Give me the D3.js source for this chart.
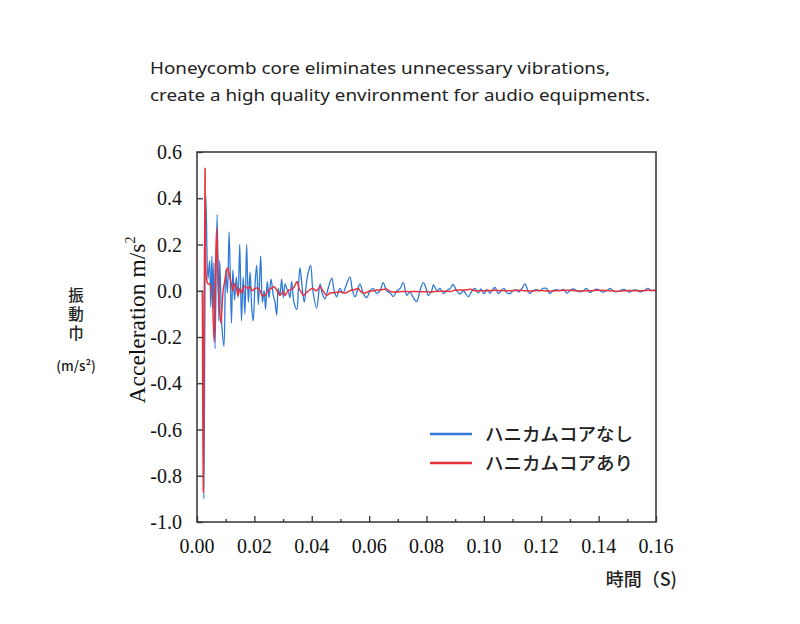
<!DOCTYPE html>
<html>
<head>
<meta charset="utf-8">
<script src="https://cdn.jsdelivr.net/npm/d3@7"></script>
<style>
  body { margin: 0; background: #fff; }
  svg { display: block; }
</style>
</head>
<body>
<div id="chart"></div>
<script>
// time (s) and acceleration (m/s^2)
const blueTime = [
  0.0019, 0.0024, 0.0031, 0.0038, 0.0044, 0.0048, 0.0052, 0.0056, 0.0059, 0.0063,
  0.0070, 0.0076, 0.0079, 0.0087, 0.0094, 0.0100, 0.0106, 0.0112, 0.0120, 0.0125,
  0.0131, 0.0137, 0.0143, 0.0149, 0.0155, 0.0161, 0.0167, 0.0173, 0.0179, 0.0185,
  0.0191, 0.0196, 0.0202, 0.0208, 0.0214, 0.0222, 0.0228, 0.0234, 0.0239, 0.0245,
  0.0251, 0.0258, 0.0266, 0.0272, 0.0278, 0.0283, 0.0289, 0.0295, 0.0301, 0.0307,
  0.0313, 0.0318, 0.0324, 0.0330, 0.0338, 0.0348, 0.0353, 0.0359, 0.0367, 0.0374,
  0.0382, 0.0388, 0.0396, 0.0404, 0.0417, 0.0429, 0.0436, 0.0446, 0.0457, 0.0470,
  0.0478, 0.0487, 0.0498, 0.0509, 0.0519, 0.0533, 0.0542, 0.0551, 0.0559, 0.0568,
  0.0579, 0.0592, 0.0603, 0.0614, 0.0626, 0.0638, 0.0649, 0.0661, 0.0673, 0.0684,
  0.0697, 0.0708, 0.0719, 0.0731, 0.0742, 0.0754, 0.0766, 0.0777, 0.0789, 0.0801,
  0.0806, 0.0818, 0.0824, 0.0837, 0.0847, 0.0859, 0.0870, 0.0882, 0.0893, 0.0905,
  0.0917, 0.0928, 0.0946, 0.0959, 0.0969, 0.0980, 0.0990, 0.1000, 0.1011, 0.1021,
  0.1028, 0.1039, 0.1050, 0.1060, 0.1070, 0.1081, 0.1091, 0.1102, 0.1112, 0.1122,
  0.1133, 0.1143, 0.1154, 0.1161, 0.1171, 0.1182, 0.1196, 0.1206, 0.1218, 0.1230,
  0.1241, 0.1251, 0.1265, 0.1277, 0.1289, 0.1300, 0.1311, 0.1324, 0.1335, 0.1346,
  0.1358, 0.1370, 0.1380, 0.1394, 0.1405, 0.1415, 0.1428, 0.1440, 0.1450, 0.1463,
  0.1474, 0.1488, 0.1499, 0.1509, 0.1521, 0.1534, 0.1544, 0.1558, 0.1572, 0.1583,
  0.1593, 0.1600
];
const blueValue = [
  0.00, -0.90, 0.41, 0.05, 0.13, -0.07, 0.15, -0.08, 0.12, -0.25,
  0.33, -0.13, 0.13, -0.16, -0.24, 0.09, -0.01, 0.255, -0.14, 0.09,
  -0.04, 0.06, -0.03, 0.20, -0.13, 0.06, -0.10, 0.20, -0.05, 0.08,
  -0.08, -0.13, 0.02, 0.11, -0.06, 0.15, -0.05, 0.00, -0.08, 0.04,
  -0.03, 0.05, -0.02, -0.05, -0.105, 0.01, -0.02, 0.05, -0.03, 0.03,
  0.01, 0.00, -0.03, 0.04, -0.05, -0.08, 0.00, 0.10, 0.01, -0.05,
  0.04, 0.08, 0.11, 0.00, -0.075, 0.03, -0.01, -0.035, 0.01, 0.055,
  0.00, -0.026, 0.01, -0.01, 0.02, 0.06, 0.00, -0.026, 0.00, 0.03,
  -0.01, -0.03, 0.00, 0.01, -0.01, 0.00, 0.035, 0.00, -0.01, -0.025,
  0.00, 0.01, 0.035, -0.02, -0.005, -0.03, -0.047, 0.00, 0.035, 0.00,
  -0.02, 0.00, 0.025, 0.00, 0.01, -0.012, 0.00, 0.01, 0.027, 0.00,
  -0.014, 0.00, -0.026, 0.00, 0.01, -0.01, 0.008, -0.012, 0.005, -0.01,
  0.00, 0.014, -0.012, 0.00, 0.01, -0.01, -0.012, 0.00, 0.005, -0.005,
  0.01, 0.03, 0.00, -0.012, 0.00, 0.005, 0.00, 0.01, 0.01, -0.012,
  0.00, 0.005, 0.00, 0.006, -0.01, 0.00, 0.008, 0.00, -0.005, 0.00,
  0.01, -0.008, 0.00, 0.007, 0.00, -0.006, 0.00, 0.01, 0.00, -0.005,
  0.00, 0.006, 0.00, -0.006, 0.003, 0.003, -0.005, 0.00, 0.01, 0.00,
  0.004, 0.00
];

const redTime = [
  0.0019, 0.0022, 0.0028, 0.0033, 0.0038, 0.0044, 0.0049, 0.0054, 0.0060, 0.0068,
  0.0075, 0.0083, 0.0091, 0.0098, 0.0106, 0.0114, 0.0120, 0.0125, 0.0131, 0.0138,
  0.0143, 0.0150, 0.0157, 0.0164, 0.0171, 0.0178, 0.0185, 0.0192, 0.0202, 0.0213,
  0.0220, 0.0227, 0.0237, 0.0247, 0.0258, 0.0268, 0.0279, 0.0289, 0.0300, 0.0307,
  0.0317, 0.0328, 0.0338, 0.0348, 0.0356, 0.0363, 0.0371, 0.0380, 0.0394, 0.0404,
  0.0417, 0.0429, 0.0439, 0.0452, 0.0464, 0.0481, 0.0498, 0.0516, 0.0533, 0.0551,
  0.0562, 0.0572, 0.0586, 0.0600, 0.0614, 0.0627, 0.0641, 0.0661, 0.0676, 0.0690,
  0.0708, 0.0725, 0.0742, 0.0760, 0.0777, 0.0795, 0.0812, 0.0830, 0.0847, 0.0864,
  0.0882, 0.0899, 0.0917, 0.0934, 0.0952, 0.0969, 0.0986, 0.1004, 0.1021, 0.1039,
  0.1056, 0.1091, 0.1126, 0.1161, 0.1196, 0.1230, 0.1265, 0.1300, 0.1335, 0.1370,
  0.1405, 0.1440, 0.1474, 0.1509, 0.1544, 0.1579, 0.1600
];
const redValue = [
  0.00, -0.87, 0.53, 0.05, 0.03, 0.03, 0.02, -0.04, -0.22, 0.27,
  0.00, -0.14, 0.00, 0.05, 0.10, 0.06, 0.03, 0.00, 0.03, 0.01,
  -0.02, 0.01, -0.01, 0.02, 0.015, 0.01, 0.017, 0.00, 0.01, 0.01,
  0.00, -0.02, -0.02, 0.00, 0.01, 0.017, 0.00, -0.02, -0.005, -0.02,
  0.00, 0.005, 0.015, 0.04, 0.01, -0.005, -0.02, -0.01, 0.005, 0.01,
  0.00, 0.017, 0.00, -0.02, -0.01, -0.008, -0.004, -0.01, 0.00, 0.005,
  0.01, -0.005, -0.01, -0.002, 0.00, 0.003, 0.004, 0.007, -0.004, -0.005,
  -0.004, -0.003, -0.004, -0.003, -0.004, -0.004, -0.005, -0.003, -0.002, -0.002,
  -0.003, 0.002, 0.003, 0.003, 0.006, 0.00, 0.00, 0.00, 0.001, 0.002,
  0.001, 0.00, 0.002, -0.001, 0.001, -0.002, 0.001, 0.002, -0.001, 0.00,
  0.002, 0.00, -0.002, 0.001, 0.00, 0.002, 0.00
];

const seriesNames = ["ハニカムコアなし", "ハニカムコアあり"];
const seriesColors = ["#2f7ad8", "#e8313a"];
const xTicks = [0, 0.02, 0.04, 0.06, 0.08, 0.10, 0.12, 0.14, 0.16];
const xMinorTicks = [0.01, 0.03, 0.05, 0.07, 0.09, 0.11, 0.13, 0.15];
const yTicks = [0.6, 0.4, 0.2, 0.0, -0.2, -0.4, -0.6, -0.8, -1.0];

const width = 800;
const height = 624;
const margin = { top: 152, right: 144, bottom: 102, left: 197 };

const svg = d3.select("#chart")
    .append("svg")
    .attr("width", width)
    .attr("height", height);

const xScale = d3.scaleLinear()
    .domain([0, 0.16])
    .range([margin.left, width - margin.right]);

const yScale = d3.scaleLinear()
    .domain([-1.0, 0.6])
    .range([height - margin.bottom, margin.top]);

// heading
const headFont = "'Noto Sans', 'Open Sans', sans-serif";
svg.append("text")
    .attr("x", 150)
    .attr("y", 74)
    .attr("textLength", 460)
    .attr("lengthAdjust", "spacingAndGlyphs")
    .style("font-family", headFont)
    .style("font-size", "17px")
    .style("fill", "#222")
    .text("Honeycomb core eliminates unnecessary vibrations,");
svg.append("text")
    .attr("x", 150)
    .attr("y", 101)
    .attr("textLength", 500)
    .attr("lengthAdjust", "spacingAndGlyphs")
    .style("font-family", headFont)
    .style("font-size", "17px")
    .style("fill", "#222")
    .text("create a high quality environment for audio equipments.");

// plot lines
svg.append("clipPath")
    .attr("id", "plot-clip")
    .append("rect")
    .attr("x", margin.left)
    .attr("y", margin.top)
    .attr("width", xScale(0.16) - margin.left)
    .attr("height", yScale(-1.0) - margin.top);

const line = d3.line()
    .curve(d3.curveCatmullRom.alpha(0.5))
    .x(d => xScale(d[0]))
    .y(d => yScale(d[1]));

const blueData = blueTime.map((t, i) => [t, blueValue[i]]);
const redData = redTime.map((t, i) => [t, redValue[i]]);

const plot = svg.append("g").attr("clip-path", "url(#plot-clip)");

plot.append("path")
    .datum(blueData)
    .attr("d", line)
    .attr("fill", "none")
    .attr("stroke", seriesColors[0])
    .attr("stroke-width", 1.3)
    .attr("stroke-linejoin", "round");

plot.append("path")
    .datum(redData)
    .attr("d", line)
    .attr("fill", "none")
    .attr("stroke", seriesColors[1])
    .attr("stroke-width", 1.5)
    .attr("stroke-linejoin", "round");

// frame
svg.append("rect")
    .attr("x", margin.left)
    .attr("y", margin.top)
    .attr("width", xScale(0.16) - margin.left)
    .attr("height", yScale(-1.0) - margin.top)
    .attr("fill", "none")
    .attr("stroke", "#333")
    .attr("stroke-width", 1.5);

// axes with inward ticks
const tickFont = "'Liberation Serif', 'DejaVu Serif', serif";

const yAxis = svg.append("g")
    .attr("transform", `translate(${margin.left},0)`)
    .call(d3.axisRight(yScale).tickValues(yTicks).tickSize(6).tickFormat(""));
yAxis.select(".domain").remove();
yAxis.selectAll("line").attr("stroke", "#333").attr("stroke-width", 1.3);

svg.append("g")
    .selectAll("text")
    .data(yTicks)
    .join("text")
    .attr("x", 182)
    .attr("y", d => yScale(d))
    .attr("dy", "0.35em")
    .attr("text-anchor", "end")
    .style("font-family", tickFont)
    .style("font-size", "20px")
    .style("fill", "#111")
    .text(d => d3.format(".1f")(d).replace("−", "-"));

const xAxis = svg.append("g")
    .attr("transform", `translate(0,${yScale(-1.0)})`)
    .call(d3.axisTop(xScale).tickValues(xTicks).tickSize(6).tickFormat(""));
xAxis.select(".domain").remove();
xAxis.selectAll("line").attr("stroke", "#333").attr("stroke-width", 1.3);

const xMinor = svg.append("g")
    .attr("transform", `translate(0,${yScale(-1.0)})`)
    .call(d3.axisTop(xScale).tickValues(xMinorTicks).tickSize(3).tickFormat(""));
xMinor.select(".domain").remove();
xMinor.selectAll("line").attr("stroke", "#333").attr("stroke-width", 1.3);

svg.append("g")
    .selectAll("text")
    .data(xTicks)
    .join("text")
    .attr("x", d => xScale(d))
    .attr("y", 553)
    .attr("text-anchor", "middle")
    .style("font-family", tickFont)
    .style("font-size", "20px")
    .style("fill", "#111")
    .text(d => d3.format(".2f")(d));

// y axis title
const yTitle = svg.append("text")
    .attr("transform", `translate(145,320) rotate(-90)`)
    .attr("text-anchor", "middle")
    .style("font-family", tickFont)
    .style("font-size", "23.5px")
    .style("fill", "#111");
yTitle.append("tspan").text("Acceleration m/s");
yTitle.append("tspan").attr("dy", -10).style("font-size", "14px").text("2");

// japanese side label, set vertically
const jpFont = "'Noto Sans CJK JP', sans-serif";
svg.append("text")
    .attr("x", 76)
    .attr("y", 287)
    .style("writing-mode", "vertical-rl")
    .style("letter-spacing", "3.5px")
    .style("font-family", jpFont)
    .style("font-size", "15.5px")
    .style("font-weight", "500")
    .style("fill", "#222")
    .text("振動巾");

svg.append("text")
    .attr("x", 76)
    .attr("y", 371)
    .attr("text-anchor", "middle")
    .style("font-family", jpFont)
    .style("font-size", "13.5px")
    .style("font-weight", "500")
    .style("fill", "#222")
    .text("(m/s²)");

svg.append("text")
    .attr("x", 677)
    .attr("y", 586)
    .attr("text-anchor", "end")
    .style("font-family", jpFont)
    .style("font-size", "18px")
    .style("font-weight", "500")
    .style("fill", "#222")
    .text("時間（S)");

// legend
const legend = svg.append("g")
    .attr("transform", "translate(430,434)");

legend.selectAll("line")
    .data(seriesNames)
    .join("line")
    .attr("x1", 0)
    .attr("x2", 42)
    .attr("y1", (d, i) => i * 29)
    .attr("y2", (d, i) => i * 29)
    .attr("stroke", (d, i) => seriesColors[i])
    .attr("stroke-width", 2.5);

legend.selectAll("text")
    .data(seriesNames)
    .join("text")
    .attr("x", 55)
    .attr("y", (d, i) => i * 29 + 7)
    .style("font-family", jpFont)
    .style("font-size", "18.5px")
    .style("font-weight", "500")
    .style("fill", "#222")
    .text(d => d);
</script>
</body>
</html>
